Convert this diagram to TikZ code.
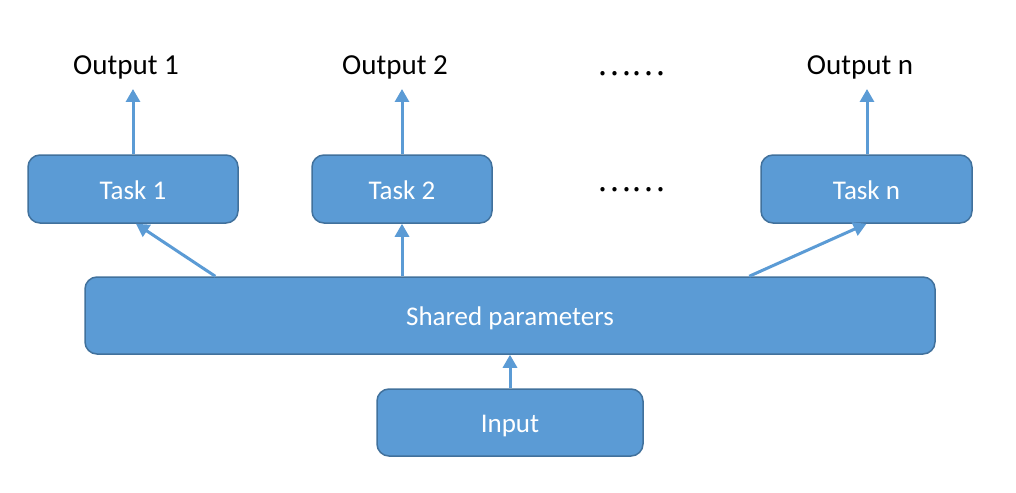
\documentclass[tikz,border=0pt]{standalone}
\usepackage{fontspec}
\setmainfont{Carlito}
\newfontfamily\cjk{Noto Sans CJK SC}
\usetikzlibrary{calc,arrows.meta}
\definecolor{boxfill}{HTML}{5B9BD5}
\definecolor{boxline}{HTML}{41719C}
\tikzset{
  box/.style={draw=boxline, line width=1.5pt, fill=boxfill, rounded corners=12pt,
    text=white, font=\fontsize{27}{32}\selectfont, inner sep=0pt,
    text height=20pt, text depth=0pt},
  lbl/.style={text=black, font=\fontsize{29}{34}\selectfont, inner sep=0pt},
  dots/.style={text=black, font=\cjk\fontsize{32}{36}\selectfont, inner sep=0pt},
  arr/.style={draw=boxfill, line width=3pt, -{Triangle[width=14pt,length=13pt]}},
}
\begin{document}
\begin{tikzpicture}[x=1pt,y=-1pt]
\useasboundingbox (0,0) rectangle (1016,492);
% task row
\node[box, minimum width=210pt, minimum height=68pt] (t1) at (133,189) {Task 1};
\node[box, minimum width=180pt, minimum height=68pt] (t2) at (402,189) {Task 2};
\node[box, minimum width=211pt, minimum height=68pt] (tn) at (866.5,189) {Task n};
\node[dots] (d2) at (631,190) {……};
% shared and input
\node[box, minimum width=850pt, minimum height=77pt] (sh) at (510,315.5) {Shared parameters};
\node[box, minimum width=266pt, minimum height=67pt] (in) at (510,422.5) {Input};
% outputs
\node[lbl] (o1) at (126,67) {Output 1};
\node[lbl] (o2) at (395,67) {Output 2};
\node[dots] (d1) at (631,74) {……};
\node[lbl] (on) at (860,67) {Output n};
\coordinate (c1) at (133,89);
\coordinate (c2) at (402,89);
\coordinate (cn) at (867,89);
% arrows to outputs
\draw[arr] (t1.north -| c1) -- (c1);
\draw[arr] (t2.north) -- (c2);
\draw[arr] (tn.north -| cn) -- (cn);
% arrows from shared
\draw[arr] ($(sh.north west)+(131,0)$) -- ($(t1.south)+(3,0)$);
\draw[arr] (sh.north -| t2.south) -- (t2.south);
\draw[arr] ($(sh.north west)+(665,0)$) -- ($(tn.south)+(0,0)$);
\draw[arr] (in.north) -- (sh.south);
\end{tikzpicture}
\end{document}
